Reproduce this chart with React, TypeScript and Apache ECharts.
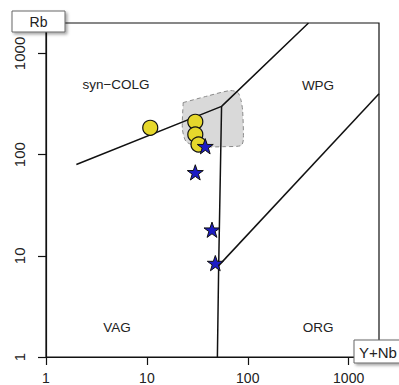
import React, { useEffect, useRef } from "react";
import * as echarts from "echarts";

// Tectonic discrimination boundaries (Y+Nb vs Rb)
const boundaryA: [number, number][] = [[2, 80], [55, 300], [400, 2000]];
const boundaryB: [number, number][] = [[55, 300], [51.5, 8], [50, 1]];
const boundaryC: [number, number][] = [[51.5, 8], [2000, 400]];

// Shaded reference field
const fieldX = [22.9, 40, 67, 80, 86, 89, 90.4, 86, 60, 33.8, 24.6, 22.5, 22.9];
const fieldY = [327, 380, 430, 410, 340, 270, 141, 123, 120, 120, 134, 180, 327];

// Samples
const circleX = [10.8, 30.2, 30.2, 32.5];
const circleY = [184, 211, 158, 126];
const starX = [37.9, 30.2, 44.2, 47.7];
const starY = [121, 66.8, 18.1, 8.47];

const tickValues = [1, 10, 100, 1000];

const STAR =
  "path://M50,0 L61.8,35.1 L98.1,35.1 L68.8,56.8 L79.4,91.9 L50,70.3 L20.6,91.9 L31.2,56.8 L1.9,35.1 L38.2,35.1 Z";

export default function App() {
  const ref = useRef<HTMLDivElement>(null);
  useEffect(() => {
    if (!ref.current) return;
    const chart = echarts.init(ref.current, undefined, { renderer: "svg" });
    const lineStyle = { color: "#111", width: 1.5 };
    const font = "'Liberation Sans', Arial, sans-serif";
    const fmt = (v: number) => String(Math.round(v));
    const opt: any = {
      animation: false,
      grid: {
        left: 46,
        right: 20,
        top: 23,
        bottom: 28,
        show: true,
        borderColor: "#111",
        borderWidth: 1.2,
      },
      xAxis: {
        type: "log",
        logBase: 10,
        min: 1,
        max: 2000,
        splitLine: { show: false },
        axisLine: { show: true, onZero: false, lineStyle: { color: "#111", width: 1.2 } },
        axisTick: { show: true, length: 8, customValues: tickValues, lineStyle: { color: "#111", width: 1.2 } },
        axisLabel: {
          customValues: tickValues,
          formatter: fmt,
          margin: 14,
          fontSize: 14,
          color: "#222",
          fontFamily: font,
        },
      },
      yAxis: {
        type: "log",
        logBase: 10,
        min: 1,
        max: 2000,
        splitLine: { show: false },
        axisLine: { show: true, onZero: false, lineStyle: { color: "#111", width: 1.2 } },
        axisTick: { show: true, length: 8, customValues: tickValues, lineStyle: { color: "#111", width: 1.2 } },
        axisLabel: {
          customValues: tickValues,
          formatter: fmt,
          rotate: 90,
          margin: 19,
          fontSize: 15,
          color: "#222",
          fontFamily: font,
        },
      },
      series: [
        {
          type: "custom",
          z: 1,
          data: [[fieldX[0], fieldY[0]]],
          renderItem: (_p: any, api: any) => {
            const pts = fieldX.map((x, i) => api.coord([x, fieldY[i]]));
            return {
              type: "polygon",
              shape: { points: pts, smooth: 0.25 },
              style: { fill: "#d9d9d9", stroke: "#8a8a8a", lineWidth: 1, lineDash: [4, 3] },
            };
          },
        },
        { type: "line", z: 2, data: boundaryA, showSymbol: false, symbol: "none", lineStyle },
        { type: "line", z: 2, data: boundaryB, showSymbol: false, symbol: "none", lineStyle },
        { type: "line", z: 2, data: boundaryC, showSymbol: false, symbol: "none", lineStyle },
        {
          type: "scatter",
          z: 3,
          symbol: "circle",
          symbolSize: 15,
          data: circleX.map((x, i) => [x, circleY[i]]),
          itemStyle: { color: "#e6d82c", borderColor: "#111", borderWidth: 1.2, opacity: 1 },
        },
        {
          type: "scatter",
          z: 4,
          symbol: STAR,
          symbolKeepAspect: true,
          symbolSize: 16,
          data: starX.map((x, i) => [x, starY[i]]),
          itemStyle: { color: "#1c1cc4", borderColor: "#111", borderWidth: 1, opacity: 1 },
        },
      ],
      graphic: [
        { type: "text", x: 116, y: 84, style: { text: "syn−COLG", font: `13.5px ${font}`, fill: "#222", align: "center", verticalAlign: "middle" }, z: 10 },
        { type: "text", x: 318, y: 85, style: { text: "WPG", font: `13.5px ${font}`, fill: "#222", align: "center", verticalAlign: "middle" }, z: 10 },
        { type: "text", x: 117, y: 327, style: { text: "VAG", font: `13.5px ${font}`, fill: "#222", align: "center", verticalAlign: "middle" }, z: 10 },
        { type: "text", x: 318, y: 327, style: { text: "ORG", font: `13.5px ${font}`, fill: "#222", align: "center", verticalAlign: "middle" }, z: 10 },
        {
          type: "rect",
          z: 20,
          shape: { x: 12, y: 11, width: 53, height: 21 },
          style: { fill: "#fff", stroke: "#666", lineWidth: 1, shadowBlur: 3, shadowOffsetX: 2, shadowOffsetY: 2, shadowColor: "rgba(0,0,0,0.35)" },
        },
        { type: "text", z: 21, x: 38.5, y: 22, style: { text: "Rb", font: `14px ${font}`, fill: "#222", align: "center", verticalAlign: "middle" } },
        {
          type: "rect",
          z: 20,
          shape: { x: 354, y: 340, width: 60, height: 23 },
          style: { fill: "#fff", stroke: "#666", lineWidth: 1, shadowBlur: 3, shadowOffsetX: 2, shadowOffsetY: 2, shadowColor: "rgba(0,0,0,0.35)" },
        },
        { type: "text", z: 21, x: 359, y: 352, style: { text: "Y+Nb", font: `15px ${font}`, fill: "#222", align: "left", verticalAlign: "middle" } },
      ],
    };
    chart.setOption(opt);
    return () => chart.dispose();
  }, []);
  return (
    <div
      ref={ref}
      style={{ position: "fixed", left: 0, top: 0, width: 399, height: 385, background: "#fff" }}
    />
  );
}
